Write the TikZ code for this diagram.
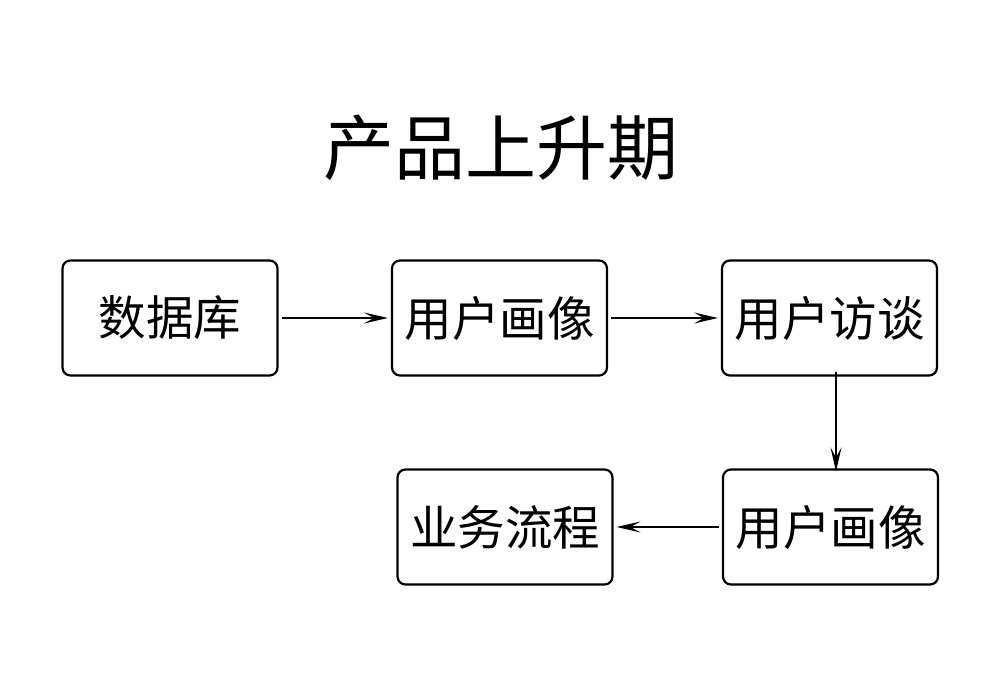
\documentclass[tikz,border=0pt]{standalone}
\usepackage{fontspec}
\setmainfont{Noto Sans CJK SC}
\usetikzlibrary{arrows.meta}
\begin{document}
\begin{tikzpicture}[x=1pt,y=-1pt,
  box/.style={draw, line width=2.2pt, rounded corners=8pt, minimum width=215pt, minimum height=115pt, inner sep=0pt, font=\fontsize{47.5}{50}\selectfont},
  conn/.style={line width=1.4pt, -{Stealth[length=24pt,width=11pt,inset=10pt]}}]
\useasboundingbox (0,0) rectangle (1000,700);
\node[font=\fontsize{71}{80}\selectfont] (title) at (501,148) {产品上升期};
\node[box] (a) at (170,318) {数据库};
\node[box] (b) at (499.5,318) {用户画像};
\node[box] (c) at (829.5,318) {用户访谈};
\node[box] (d) at (830.5,527) {用户画像};
\node[box] (e) at (505,527) {业务流程};
\draw[conn] ([xshift=3pt]a.east) -- ([xshift=-3pt]b.west);
\draw[conn] ([xshift=3pt]b.east) -- ([xshift=-3pt]c.west);
\draw[conn] ([xshift=6.5pt,yshift=5pt]c.south) -- ([xshift=5.5pt,yshift=-3pt]d.north);
\draw[conn] ([xshift=-3pt]d.west) -- ([xshift=3pt]e.east);
\end{tikzpicture}
\end{document}
